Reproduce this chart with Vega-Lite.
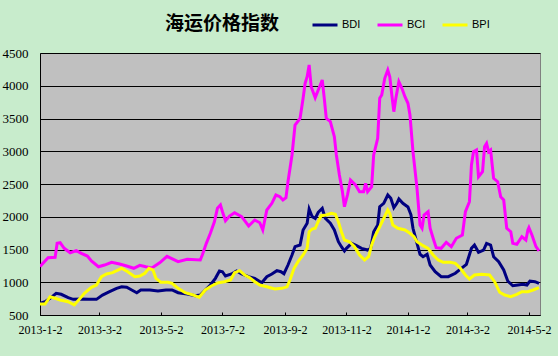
{
  "$schema": "https://vega.github.io/schema/vega-lite/v6.json",
  "width": 500,
  "height": 262,
  "autosize": {"type": "none"},
  "padding": {"left": 40, "top": 53, "right": 18, "bottom": 41},
  "background": "#C8ECCC",
  "title": {
    "text": "海运价格指数",
    "anchor": "middle",
    "dx": -68,
    "dy": 45,
    "offset": 22,
    "font": "Noto Sans CJK SC",
    "fontSize": 19,
    "fontWeight": "bold",
    "color": "#000000"
  },
  "config": {
    "view": {"fill": "#C0C0C0", "stroke": "#808080", "strokeWidth": 1}
  },
  "data": {
    "values": [
      {"d": "2013/01/02", "s": "BDI", "v": 679},
      {"d": "2013/01/07", "s": "BDI", "v": 703},
      {"d": "2013/01/12", "s": "BDI", "v": 755},
      {"d": "2013/01/18", "s": "BDI", "v": 831},
      {"d": "2013/01/23", "s": "BDI", "v": 816},
      {"d": "2013/01/30", "s": "BDI", "v": 764},
      {"d": "2013/02/04", "s": "BDI", "v": 739},
      {"d": "2013/02/12", "s": "BDI", "v": 744},
      {"d": "2013/02/19", "s": "BDI", "v": 739},
      {"d": "2013/02/27", "s": "BDI", "v": 739},
      {"d": "2013/03/05", "s": "BDI", "v": 805},
      {"d": "2013/03/12", "s": "BDI", "v": 856},
      {"d": "2013/03/19", "s": "BDI", "v": 907},
      {"d": "2013/03/24", "s": "BDI", "v": 932},
      {"d": "2013/03/29", "s": "BDI", "v": 923},
      {"d": "2013/04/03", "s": "BDI", "v": 882},
      {"d": "2013/04/08", "s": "BDI", "v": 840},
      {"d": "2013/04/12", "s": "BDI", "v": 882},
      {"d": "2013/04/21", "s": "BDI", "v": 882},
      {"d": "2013/04/29", "s": "BDI", "v": 866},
      {"d": "2013/05/07", "s": "BDI", "v": 880},
      {"d": "2013/05/13", "s": "BDI", "v": 882},
      {"d": "2013/05/19", "s": "BDI", "v": 840},
      {"d": "2013/05/28", "s": "BDI", "v": 821},
      {"d": "2013/06/05", "s": "BDI", "v": 795},
      {"d": "2013/06/10", "s": "BDI", "v": 805},
      {"d": "2013/06/15", "s": "BDI", "v": 882},
      {"d": "2013/06/20", "s": "BDI", "v": 958},
      {"d": "2013/06/25", "s": "BDI", "v": 1060},
      {"d": "2013/06/29", "s": "BDI", "v": 1172},
      {"d": "2013/07/02", "s": "BDI", "v": 1161},
      {"d": "2013/07/05", "s": "BDI", "v": 1095},
      {"d": "2013/07/11", "s": "BDI", "v": 1126},
      {"d": "2013/07/16", "s": "BDI", "v": 1172},
      {"d": "2013/07/21", "s": "BDI", "v": 1126},
      {"d": "2013/07/28", "s": "BDI", "v": 1085},
      {"d": "2013/08/03", "s": "BDI", "v": 1060},
      {"d": "2013/08/10", "s": "BDI", "v": 993},
      {"d": "2013/08/15", "s": "BDI", "v": 1085},
      {"d": "2013/08/20", "s": "BDI", "v": 1126},
      {"d": "2013/08/25", "s": "BDI", "v": 1177},
      {"d": "2013/08/29", "s": "BDI", "v": 1161},
      {"d": "2013/09/01", "s": "BDI", "v": 1130},
      {"d": "2013/09/05", "s": "BDI", "v": 1263},
      {"d": "2013/09/09", "s": "BDI", "v": 1416},
      {"d": "2013/09/12", "s": "BDI", "v": 1543},
      {"d": "2013/09/17", "s": "BDI", "v": 1569},
      {"d": "2013/09/20", "s": "BDI", "v": 1798},
      {"d": "2013/09/24", "s": "BDI", "v": 1900},
      {"d": "2013/09/26", "s": "BDI", "v": 2118},
      {"d": "2013/09/29", "s": "BDI", "v": 2001},
      {"d": "2013/10/02", "s": "BDI", "v": 1976},
      {"d": "2013/10/05", "s": "BDI", "v": 2068},
      {"d": "2013/10/09", "s": "BDI", "v": 2129},
      {"d": "2013/10/12", "s": "BDI", "v": 1976},
      {"d": "2013/10/17", "s": "BDI", "v": 1900},
      {"d": "2013/10/21", "s": "BDI", "v": 1798},
      {"d": "2013/10/25", "s": "BDI", "v": 1619},
      {"d": "2013/10/28", "s": "BDI", "v": 1543},
      {"d": "2013/10/31", "s": "BDI", "v": 1477},
      {"d": "2013/11/02", "s": "BDI", "v": 1518},
      {"d": "2013/11/07", "s": "BDI", "v": 1594},
      {"d": "2013/11/12", "s": "BDI", "v": 1558},
      {"d": "2013/11/17", "s": "BDI", "v": 1518},
      {"d": "2013/11/23", "s": "BDI", "v": 1492},
      {"d": "2013/11/26", "s": "BDI", "v": 1518},
      {"d": "2013/11/29", "s": "BDI", "v": 1772},
      {"d": "2013/12/03", "s": "BDI", "v": 1874},
      {"d": "2013/12/05", "s": "BDI", "v": 2153},
      {"d": "2013/12/09", "s": "BDI", "v": 2205},
      {"d": "2013/12/13", "s": "BDI", "v": 2332},
      {"d": "2013/12/16", "s": "BDI", "v": 2282},
      {"d": "2013/12/19", "s": "BDI", "v": 2138},
      {"d": "2013/12/22", "s": "BDI", "v": 2205},
      {"d": "2013/12/24", "s": "BDI", "v": 2271},
      {"d": "2013/12/28", "s": "BDI", "v": 2205},
      {"d": "2014/01/02", "s": "BDI", "v": 2150},
      {"d": "2014/01/05", "s": "BDI", "v": 2030},
      {"d": "2014/01/07", "s": "BDI", "v": 1824},
      {"d": "2014/01/11", "s": "BDI", "v": 1594},
      {"d": "2014/01/14", "s": "BDI", "v": 1427},
      {"d": "2014/01/17", "s": "BDI", "v": 1390},
      {"d": "2014/01/21", "s": "BDI", "v": 1427},
      {"d": "2014/01/24", "s": "BDI", "v": 1263},
      {"d": "2014/01/29", "s": "BDI", "v": 1161},
      {"d": "2014/02/04", "s": "BDI", "v": 1085},
      {"d": "2014/02/11", "s": "BDI", "v": 1085},
      {"d": "2014/02/18", "s": "BDI", "v": 1137},
      {"d": "2014/02/24", "s": "BDI", "v": 1213},
      {"d": "2014/03/01", "s": "BDI", "v": 1274},
      {"d": "2014/03/06", "s": "BDI", "v": 1518},
      {"d": "2014/03/09", "s": "BDI", "v": 1569},
      {"d": "2014/03/13", "s": "BDI", "v": 1457},
      {"d": "2014/03/18", "s": "BDI", "v": 1492},
      {"d": "2014/03/21", "s": "BDI", "v": 1594},
      {"d": "2014/03/25", "s": "BDI", "v": 1569},
      {"d": "2014/03/28", "s": "BDI", "v": 1390},
      {"d": "2014/04/02", "s": "BDI", "v": 1314},
      {"d": "2014/04/07", "s": "BDI", "v": 1187},
      {"d": "2014/04/11", "s": "BDI", "v": 1019},
      {"d": "2014/04/16", "s": "BDI", "v": 947},
      {"d": "2014/04/21", "s": "BDI", "v": 958},
      {"d": "2014/04/26", "s": "BDI", "v": 969},
      {"d": "2014/04/30", "s": "BDI", "v": 958},
      {"d": "2014/05/03", "s": "BDI", "v": 1019},
      {"d": "2014/05/08", "s": "BDI", "v": 1008},
      {"d": "2014/05/12", "s": "BDI", "v": 984},

      {"d": "2013/01/02", "s": "BCI", "v": 1240},
      {"d": "2013/01/10", "s": "BCI", "v": 1375},
      {"d": "2013/01/17", "s": "BCI", "v": 1380},
      {"d": "2013/01/19", "s": "BCI", "v": 1594},
      {"d": "2013/01/22", "s": "BCI", "v": 1604},
      {"d": "2013/01/26", "s": "BCI", "v": 1518},
      {"d": "2013/02/01", "s": "BCI", "v": 1451},
      {"d": "2013/02/07", "s": "BCI", "v": 1482},
      {"d": "2013/02/12", "s": "BCI", "v": 1442},
      {"d": "2013/02/18", "s": "BCI", "v": 1400},
      {"d": "2013/02/22", "s": "BCI", "v": 1324},
      {"d": "2013/03/01", "s": "BCI", "v": 1237},
      {"d": "2013/03/07", "s": "BCI", "v": 1263},
      {"d": "2013/03/14", "s": "BCI", "v": 1305},
      {"d": "2013/03/22", "s": "BCI", "v": 1279},
      {"d": "2013/03/29", "s": "BCI", "v": 1248},
      {"d": "2013/04/05", "s": "BCI", "v": 1213},
      {"d": "2013/04/11", "s": "BCI", "v": 1259},
      {"d": "2013/04/17", "s": "BCI", "v": 1237},
      {"d": "2013/04/23", "s": "BCI", "v": 1218},
      {"d": "2013/05/01", "s": "BCI", "v": 1300},
      {"d": "2013/05/08", "s": "BCI", "v": 1395},
      {"d": "2013/05/19", "s": "BCI", "v": 1314},
      {"d": "2013/05/28", "s": "BCI", "v": 1350},
      {"d": "2013/06/10", "s": "BCI", "v": 1340},
      {"d": "2013/06/12", "s": "BCI", "v": 1416},
      {"d": "2013/06/16", "s": "BCI", "v": 1594},
      {"d": "2013/06/20", "s": "BCI", "v": 1747},
      {"d": "2013/06/24", "s": "BCI", "v": 1924},
      {"d": "2013/06/27", "s": "BCI", "v": 2129},
      {"d": "2013/06/30", "s": "BCI", "v": 2179},
      {"d": "2013/07/02", "s": "BCI", "v": 2077},
      {"d": "2013/07/05", "s": "BCI", "v": 1940},
      {"d": "2013/07/09", "s": "BCI", "v": 2011},
      {"d": "2013/07/14", "s": "BCI", "v": 2062},
      {"d": "2013/07/21", "s": "BCI", "v": 2001},
      {"d": "2013/07/28", "s": "BCI", "v": 1859},
      {"d": "2013/08/03", "s": "BCI", "v": 1950},
      {"d": "2013/08/08", "s": "BCI", "v": 1909},
      {"d": "2013/08/11", "s": "BCI", "v": 1798},
      {"d": "2013/08/15", "s": "BCI", "v": 2103},
      {"d": "2013/08/20", "s": "BCI", "v": 2205},
      {"d": "2013/08/24", "s": "BCI", "v": 2332},
      {"d": "2013/08/28", "s": "BCI", "v": 2306},
      {"d": "2013/08/31", "s": "BCI", "v": 2256},
      {"d": "2013/09/03", "s": "BCI", "v": 2290},
      {"d": "2013/09/05", "s": "BCI", "v": 2535},
      {"d": "2013/09/09", "s": "BCI", "v": 2943},
      {"d": "2013/09/12", "s": "BCI", "v": 3401},
      {"d": "2013/09/17", "s": "BCI", "v": 3503},
      {"d": "2013/09/20", "s": "BCI", "v": 3808},
      {"d": "2013/09/22", "s": "BCI", "v": 4037},
      {"d": "2013/09/24", "s": "BCI", "v": 4138},
      {"d": "2013/09/26", "s": "BCI", "v": 4317},
      {"d": "2013/09/28", "s": "BCI", "v": 3985},
      {"d": "2013/10/02", "s": "BCI", "v": 3818},
      {"d": "2013/10/05", "s": "BCI", "v": 3935},
      {"d": "2013/10/09", "s": "BCI", "v": 4088},
      {"d": "2013/10/11", "s": "BCI", "v": 3808},
      {"d": "2013/10/13", "s": "BCI", "v": 3503},
      {"d": "2013/10/17", "s": "BCI", "v": 3451},
      {"d": "2013/10/21", "s": "BCI", "v": 3222},
      {"d": "2013/10/23", "s": "BCI", "v": 2943},
      {"d": "2013/10/26", "s": "BCI", "v": 2637},
      {"d": "2013/10/29", "s": "BCI", "v": 2382},
      {"d": "2013/10/31", "s": "BCI", "v": 2153},
      {"d": "2013/11/03", "s": "BCI", "v": 2332},
      {"d": "2013/11/06", "s": "BCI", "v": 2561},
      {"d": "2013/11/11", "s": "BCI", "v": 2485},
      {"d": "2013/11/15", "s": "BCI", "v": 2382},
      {"d": "2013/11/19", "s": "BCI", "v": 2382},
      {"d": "2013/11/21", "s": "BCI", "v": 2511},
      {"d": "2013/11/23", "s": "BCI", "v": 2382},
      {"d": "2013/11/27", "s": "BCI", "v": 2459},
      {"d": "2013/11/29", "s": "BCI", "v": 2943},
      {"d": "2013/12/03", "s": "BCI", "v": 3198},
      {"d": "2013/12/05", "s": "BCI", "v": 3808},
      {"d": "2013/12/07", "s": "BCI", "v": 3859},
      {"d": "2013/12/10", "s": "BCI", "v": 4114},
      {"d": "2013/12/13", "s": "BCI", "v": 4240},
      {"d": "2013/12/15", "s": "BCI", "v": 4138},
      {"d": "2013/12/17", "s": "BCI", "v": 3859},
      {"d": "2013/12/19", "s": "BCI", "v": 3604},
      {"d": "2013/12/21", "s": "BCI", "v": 3808},
      {"d": "2013/12/24", "s": "BCI", "v": 4062},
      {"d": "2013/12/27", "s": "BCI", "v": 3961},
      {"d": "2013/12/30", "s": "BCI", "v": 3833},
      {"d": "2014/01/02", "s": "BCI", "v": 3732},
      {"d": "2014/01/04", "s": "BCI", "v": 3553},
      {"d": "2014/01/07", "s": "BCI", "v": 2993},
      {"d": "2014/01/11", "s": "BCI", "v": 2434},
      {"d": "2014/01/14", "s": "BCI", "v": 1874},
      {"d": "2014/01/16", "s": "BCI", "v": 1824},
      {"d": "2014/01/18", "s": "BCI", "v": 2027},
      {"d": "2014/01/22", "s": "BCI", "v": 2077},
      {"d": "2014/01/24", "s": "BCI", "v": 1824},
      {"d": "2014/01/27", "s": "BCI", "v": 1671},
      {"d": "2014/01/30", "s": "BCI", "v": 1527},
      {"d": "2014/02/04", "s": "BCI", "v": 1518},
      {"d": "2014/02/09", "s": "BCI", "v": 1609},
      {"d": "2014/02/14", "s": "BCI", "v": 1543},
      {"d": "2014/02/19", "s": "BCI", "v": 1671},
      {"d": "2014/02/25", "s": "BCI", "v": 1721},
      {"d": "2014/02/28", "s": "BCI", "v": 2077},
      {"d": "2014/03/04", "s": "BCI", "v": 2230},
      {"d": "2014/03/06", "s": "BCI", "v": 2790},
      {"d": "2014/03/08", "s": "BCI", "v": 2993},
      {"d": "2014/03/11", "s": "BCI", "v": 3019},
      {"d": "2014/03/13", "s": "BCI", "v": 2611},
      {"d": "2014/03/17", "s": "BCI", "v": 2688},
      {"d": "2014/03/19", "s": "BCI", "v": 3070},
      {"d": "2014/03/21", "s": "BCI", "v": 3121},
      {"d": "2014/03/23", "s": "BCI", "v": 2993},
      {"d": "2014/03/25", "s": "BCI", "v": 3019},
      {"d": "2014/03/28", "s": "BCI", "v": 2587},
      {"d": "2014/04/01", "s": "BCI", "v": 2535},
      {"d": "2014/04/04", "s": "BCI", "v": 2306},
      {"d": "2014/04/07", "s": "BCI", "v": 2256},
      {"d": "2014/04/10", "s": "BCI", "v": 1824},
      {"d": "2014/04/14", "s": "BCI", "v": 1772},
      {"d": "2014/04/16", "s": "BCI", "v": 1594},
      {"d": "2014/04/20", "s": "BCI", "v": 1579},
      {"d": "2014/04/25", "s": "BCI", "v": 1695},
      {"d": "2014/04/29", "s": "BCI", "v": 1645},
      {"d": "2014/05/01", "s": "BCI", "v": 1798},
      {"d": "2014/05/02", "s": "BCI", "v": 1833},
      {"d": "2014/05/05", "s": "BCI", "v": 1721},
      {"d": "2014/05/09", "s": "BCI", "v": 1543},
      {"d": "2014/05/12", "s": "BCI", "v": 1477},

      {"d": "2013/01/02", "s": "BPI", "v": 668},
      {"d": "2013/01/07", "s": "BPI", "v": 668},
      {"d": "2013/01/12", "s": "BPI", "v": 779},
      {"d": "2013/01/17", "s": "BPI", "v": 755},
      {"d": "2013/01/22", "s": "BPI", "v": 729},
      {"d": "2013/01/30", "s": "BPI", "v": 703},
      {"d": "2013/02/05", "s": "BPI", "v": 653},
      {"d": "2013/02/10", "s": "BPI", "v": 739},
      {"d": "2013/02/15", "s": "BPI", "v": 831},
      {"d": "2013/02/22", "s": "BPI", "v": 923},
      {"d": "2013/02/27", "s": "BPI", "v": 958},
      {"d": "2013/03/04", "s": "BPI", "v": 1085},
      {"d": "2013/03/09", "s": "BPI", "v": 1126},
      {"d": "2013/03/15", "s": "BPI", "v": 1146},
      {"d": "2013/03/24", "s": "BPI", "v": 1213},
      {"d": "2013/03/30", "s": "BPI", "v": 1161},
      {"d": "2013/04/06", "s": "BPI", "v": 1085},
      {"d": "2013/04/11", "s": "BPI", "v": 1095},
      {"d": "2013/04/16", "s": "BPI", "v": 1137},
      {"d": "2013/04/20", "s": "BPI", "v": 1213},
      {"d": "2013/04/24", "s": "BPI", "v": 1187},
      {"d": "2013/04/27", "s": "BPI", "v": 1060},
      {"d": "2013/05/02", "s": "BPI", "v": 999},
      {"d": "2013/05/09", "s": "BPI", "v": 999},
      {"d": "2013/05/13", "s": "BPI", "v": 984},
      {"d": "2013/05/19", "s": "BPI", "v": 907},
      {"d": "2013/05/26", "s": "BPI", "v": 840},
      {"d": "2013/06/03", "s": "BPI", "v": 805},
      {"d": "2013/06/09", "s": "BPI", "v": 770},
      {"d": "2013/06/15", "s": "BPI", "v": 882},
      {"d": "2013/06/21", "s": "BPI", "v": 943},
      {"d": "2013/06/28", "s": "BPI", "v": 993},
      {"d": "2013/07/04", "s": "BPI", "v": 1008},
      {"d": "2013/07/10", "s": "BPI", "v": 1034},
      {"d": "2013/07/14", "s": "BPI", "v": 1146},
      {"d": "2013/07/19", "s": "BPI", "v": 1177},
      {"d": "2013/07/24", "s": "BPI", "v": 1111},
      {"d": "2013/07/29", "s": "BPI", "v": 1070},
      {"d": "2013/08/03", "s": "BPI", "v": 1008},
      {"d": "2013/08/08", "s": "BPI", "v": 958},
      {"d": "2013/08/15", "s": "BPI", "v": 932},
      {"d": "2013/08/23", "s": "BPI", "v": 897},
      {"d": "2013/08/30", "s": "BPI", "v": 907},
      {"d": "2013/09/04", "s": "BPI", "v": 930},
      {"d": "2013/09/07", "s": "BPI", "v": 1034},
      {"d": "2013/09/11", "s": "BPI", "v": 1213},
      {"d": "2013/09/15", "s": "BPI", "v": 1314},
      {"d": "2013/09/20", "s": "BPI", "v": 1416},
      {"d": "2013/09/24", "s": "BPI", "v": 1518},
      {"d": "2013/09/26", "s": "BPI", "v": 1772},
      {"d": "2013/09/29", "s": "BPI", "v": 1813},
      {"d": "2013/10/02", "s": "BPI", "v": 1824},
      {"d": "2013/10/05", "s": "BPI", "v": 1924},
      {"d": "2013/10/08", "s": "BPI", "v": 2016},
      {"d": "2013/10/13", "s": "BPI", "v": 2027},
      {"d": "2013/10/18", "s": "BPI", "v": 2052},
      {"d": "2013/10/22", "s": "BPI", "v": 2037},
      {"d": "2013/10/25", "s": "BPI", "v": 1924},
      {"d": "2013/10/28", "s": "BPI", "v": 1772},
      {"d": "2013/10/31", "s": "BPI", "v": 1645},
      {"d": "2013/11/05", "s": "BPI", "v": 1619},
      {"d": "2013/11/10", "s": "BPI", "v": 1543},
      {"d": "2013/11/15", "s": "BPI", "v": 1416},
      {"d": "2013/11/20", "s": "BPI", "v": 1340},
      {"d": "2013/11/24", "s": "BPI", "v": 1390},
      {"d": "2013/11/27", "s": "BPI", "v": 1569},
      {"d": "2013/11/30", "s": "BPI", "v": 1695},
      {"d": "2013/12/05", "s": "BPI", "v": 1848},
      {"d": "2013/12/09", "s": "BPI", "v": 1976},
      {"d": "2013/12/13", "s": "BPI", "v": 2103},
      {"d": "2013/12/15", "s": "BPI", "v": 2052},
      {"d": "2013/12/18", "s": "BPI", "v": 1874},
      {"d": "2013/12/23", "s": "BPI", "v": 1824},
      {"d": "2013/12/30", "s": "BPI", "v": 1798},
      {"d": "2014/01/04", "s": "BPI", "v": 1747},
      {"d": "2014/01/08", "s": "BPI", "v": 1695},
      {"d": "2014/01/11", "s": "BPI", "v": 1619},
      {"d": "2014/01/17", "s": "BPI", "v": 1558},
      {"d": "2014/01/22", "s": "BPI", "v": 1518},
      {"d": "2014/01/27", "s": "BPI", "v": 1416},
      {"d": "2014/02/01", "s": "BPI", "v": 1340},
      {"d": "2014/02/06", "s": "BPI", "v": 1305},
      {"d": "2014/02/13", "s": "BPI", "v": 1305},
      {"d": "2014/02/18", "s": "BPI", "v": 1289},
      {"d": "2014/02/23", "s": "BPI", "v": 1213},
      {"d": "2014/02/28", "s": "BPI", "v": 1111},
      {"d": "2014/03/04", "s": "BPI", "v": 1050},
      {"d": "2014/03/09", "s": "BPI", "v": 1111},
      {"d": "2014/03/16", "s": "BPI", "v": 1121},
      {"d": "2014/03/24", "s": "BPI", "v": 1111},
      {"d": "2014/03/29", "s": "BPI", "v": 1008},
      {"d": "2014/04/03", "s": "BPI", "v": 847},
      {"d": "2014/04/08", "s": "BPI", "v": 805},
      {"d": "2014/04/14", "s": "BPI", "v": 779},
      {"d": "2014/04/20", "s": "BPI", "v": 816},
      {"d": "2014/04/25", "s": "BPI", "v": 856},
      {"d": "2014/05/01", "s": "BPI", "v": 856},
      {"d": "2014/05/06", "s": "BPI", "v": 882},
      {"d": "2014/05/12", "s": "BPI", "v": 917}
    ]
  },
  "mark": {"type": "line", "strokeWidth": 3, "clip": true},
  "encoding": {
    "x": {
      "field": "d",
      "type": "temporal",
      "scale": {"domain": [{"year": 2013, "month": 1, "date": 2}, {"year": 2014, "month": 5, "date": 13}]},
      "axis": {
        "title": null,
        "values": [
          {"year": 2013, "month": 1, "date": 2},
          {"year": 2013, "month": 3, "date": 2},
          {"year": 2013, "month": 5, "date": 2},
          {"year": 2013, "month": 7, "date": 2},
          {"year": 2013, "month": 9, "date": 2},
          {"year": 2013, "month": 11, "date": 2},
          {"year": 2014, "month": 1, "date": 2},
          {"year": 2014, "month": 3, "date": 2},
          {"year": 2014, "month": 5, "date": 2}
        ],
        "format": "%Y-%-m-%-d",
        "labelAngle": 0,
        "labelFlush": false,
        "labelOverlap": false,
        "labelFont": "Liberation Serif",
        "labelFontSize": 12,
        "labelColor": "#000000",
        "labelPadding": 12,
        "grid": false,
        "domainColor": "#000000",
        "tickColor": "#000000",
        "tickSize": -3
      }
    },
    "y": {
      "field": "v",
      "type": "quantitative",
      "scale": {"domain": [500, 4500], "nice": false, "zero": false},
      "axis": {
        "title": null,
        "values": [500, 1000, 1500, 2000, 2500, 3000, 3500, 4000, 4500],
        "format": "d",
        "grid": true,
        "gridColor": "#000000",
        "gridOpacity": 1,
        "gridWidth": 1,
        "ticks": false,
        "domainColor": "#000000",
        "labelFont": "Liberation Serif",
        "labelFontSize": 13,
        "labelColor": "#000000",
        "labelPadding": 12
      }
    },
    "color": {
      "field": "s",
      "type": "nominal",
      "scale": {"domain": ["BDI", "BCI", "BPI"], "range": ["#000080", "#FF00FF", "#FFFF00"]},
      "legend": {
        "title": null,
        "orient": "none",
        "legendX": 271,
        "legendY": -42,
        "direction": "horizontal",
        "padding": 0,
        "symbolType": "stroke",
        "symbolSize": 625,
        "symbolStrokeWidth": 3,
        "labelOffset": 3,
        "columnPadding": 10,
        "labelFont": "Liberation Sans",
        "labelFontSize": 11,
        "labelColor": "#000000"
      }
    }
  }
}
